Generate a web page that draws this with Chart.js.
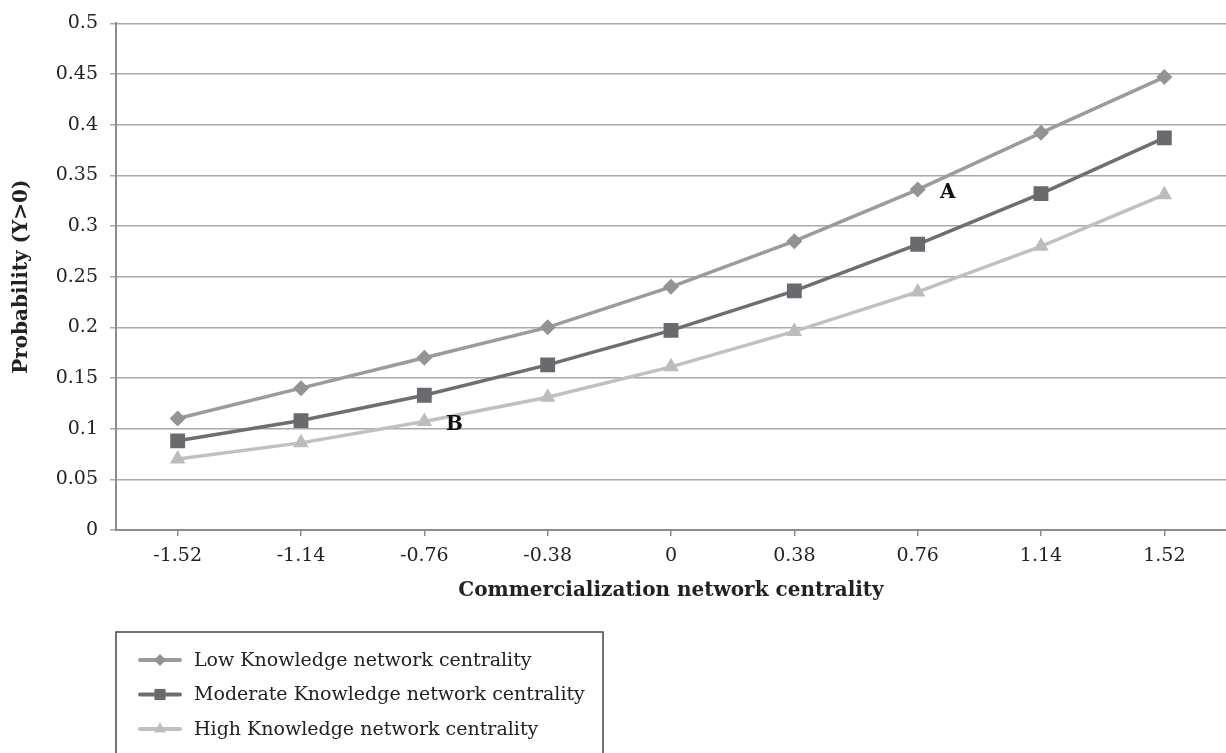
<!DOCTYPE html>
<html>
<head>
<meta charset="utf-8">
<script src="https://cdn.jsdelivr.net/npm/chart.js@4.4.1/dist/chart.umd.min.js"></script>
<style>
  html, body { margin: 0; padding: 0; background: #fff; }
  #wrap { width: 1226px; height: 753px; }
</style>
</head>
<body>
<div id="wrap"><canvas id="myChart" width="1226" height="753"></canvas></div>
<script>
// data
const categories = ['-1.52', '-1.14', '-0.76', '-0.38', '0', '0.38', '0.76', '1.14', '1.52'];
const lowKnowledge = [0.110, 0.140, 0.170, 0.200, 0.240, 0.285, 0.336, 0.392, 0.447];
const moderateKnowledge = [0.088, 0.108, 0.133, 0.163, 0.197, 0.236, 0.282, 0.332, 0.387];
const highKnowledge = [0.070, 0.086, 0.107, 0.131, 0.161, 0.196, 0.235, 0.280, 0.331];
const yTickLabels = ['0', '0.05', '0.1', '0.15', '0.2', '0.25', '0.3', '0.35', '0.4', '0.45', '0.5'];
const seriesNames = ['Low Knowledge network centrality', 'Moderate Knowledge network centrality', 'High Knowledge network centrality'];
const notes = [{ text: 'A', dataset: 0, index: 6 }, { text: 'B', dataset: 2, index: 2 }];

const FONT = "'DejaVu Serif', serif";
const TXT = '#222222';

// letters A / B next to a point
const notePlugin = {
  id: 'notes',
  afterDatasetsDraw(chart) {
    const ctx = chart.ctx;
    ctx.save();
    ctx.font = 'bold 20px ' + FONT;
    ctx.fillStyle = '#111';
    ctx.textAlign = 'center';
    ctx.textBaseline = 'middle';
    notes.forEach(n => {
      const pt = chart.getDatasetMeta(n.dataset).data[n.index];
      ctx.fillText(n.text, pt.x + 30, pt.y + 3);
    });
    ctx.restore();
  }
};

// boxed legend under the chart, left side
const boxLegend = {
  id: 'boxLegend',
  afterDraw(chart) {
    const ctx = chart.ctx;
    const left = chart.chartArea.left;
    ctx.save();
    ctx.strokeStyle = '#444';
    ctx.lineWidth = 1.5;
    ctx.beginPath();
    ctx.moveTo(left, 760);
    ctx.lineTo(left, 632);
    ctx.lineTo(603, 632);
    ctx.lineTo(603, 760);
    ctx.stroke();

    ctx.font = '19px ' + FONT;
    ctx.textBaseline = 'middle';
    ctx.textAlign = 'left';
    chart.data.datasets.forEach((ds, i) => {
      const y = 660 + i * 34.5;
      ctx.strokeStyle = ds.borderColor;
      ctx.lineWidth = 4;
      ctx.lineCap = 'round';
      ctx.beginPath();
      ctx.moveTo(140, y);
      ctx.lineTo(180, y);
      ctx.stroke();
      ctx.fillStyle = ds.pointBackgroundColor;
      Chart.helpers.drawPoint(ctx, { pointStyle: ds.pointStyle, radius: ds.pointRadius * 0.75, borderWidth: 0 }, 160, y);
      ctx.fillStyle = TXT;
      ctx.fillText(ds.label, 194, y + 1);
    });
    ctx.restore();
  }
};

const context = document.getElementById('myChart').getContext('2d');
const myChart = new Chart(context, {
  type: 'line',
  data: {
    labels: categories,
    datasets: [
      {
        label: seriesNames[0],
        data: lowKnowledge,
        borderColor: '#9b9b9b',
        pointBackgroundColor: '#939393',
        pointStyle: 'rectRot',
        pointRadius: 8,
      },
      {
        label: seriesNames[1],
        data: moderateKnowledge,
        borderColor: '#6e6e72',
        pointBackgroundColor: '#6a6a6e',
        pointStyle: 'rect',
        pointRadius: 10.5,
      },
      {
        label: seriesNames[2],
        data: highKnowledge,
        borderColor: '#c0c0c0',
        pointBackgroundColor: '#bcbcbc',
        pointStyle: 'triangle',
        pointRadius: 9,
      },
    ],
  },
  options: {
    responsive: false,
    maintainAspectRatio: false,
    animation: false,
    events: [],
    elements: {
      line: { borderWidth: 3.5, tension: 0 },
      point: { borderWidth: 0, hoverRadius: 0 },
    },
    layout: { autoPadding: false, padding: { top: 19, right: 0, bottom: 150, left: 0 } },
    plugins: {
      legend: { display: false },
      tooltip: { enabled: false },
    },
    scales: {
      x: {
        offset: true,
        afterFit: s => { s.height = 73; s.paddingRight = 0; s.paddingLeft = 0; },
        border: { color: '#8c8c8c', width: 2 },
        grid: { drawOnChartArea: false, drawTicks: true, tickLength: 6, color: '#8c8c8c', lineWidth: 1.5 },
        ticks: { color: TXT, font: { family: FONT, size: 19 }, padding: 9, maxRotation: 0 },
        title: {
          display: true,
          text: 'Commercialization network centrality',
          color: TXT,
          font: { family: FONT, size: 20, weight: 'bold' },
          padding: { top: 0, bottom: 0 },
        },
      },
      y: {
        min: 0,
        max: 0.5,
        afterFit: s => { s.width = 116; },
        border: { color: '#8c8c8c', width: 2 },
        grid: { color: '#a8a8a8', lineWidth: 1.5, tickLength: 6 },
        ticks: {
          stepSize: 0.05,
          color: TXT,
          font: { family: FONT, size: 19 },
          padding: 12,
          callback: (v, i) => yTickLabels[i],
        },
        title: {
          display: true,
          text: 'Probability (Y>0)',
          color: TXT,
          font: { family: FONT, size: 20, weight: 'bold' },
          padding: { top: 10, bottom: 0 },
        },
      },
    },
  },
  plugins: [notePlugin, boxLegend],
});
</script>
</body>
</html>
